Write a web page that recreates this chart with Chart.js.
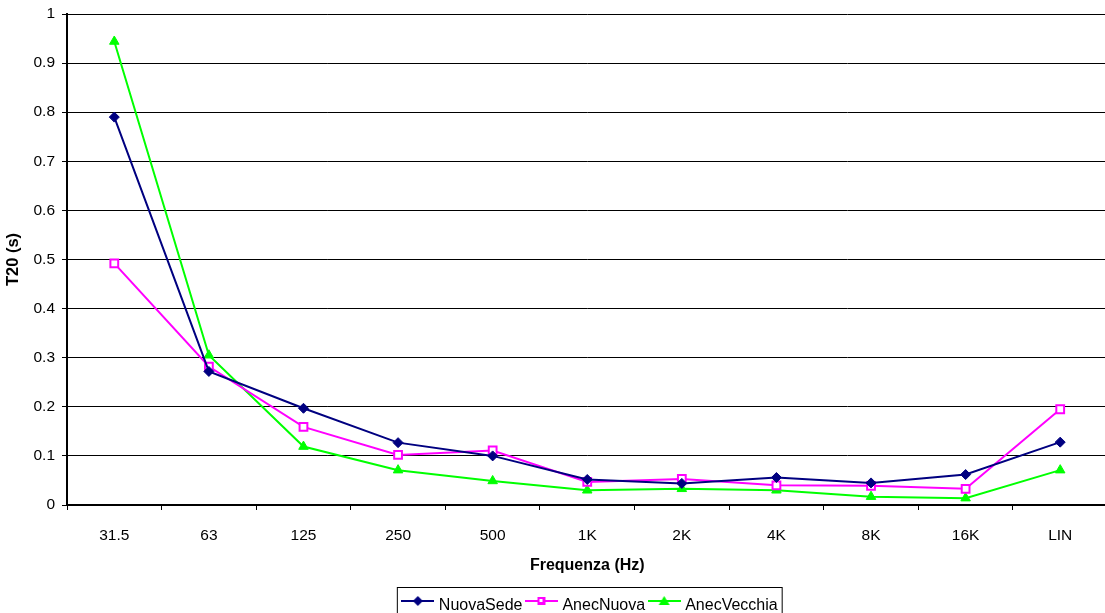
<!DOCTYPE html>
<html>
<head>
<meta charset="utf-8">
<script src="https://cdn.jsdelivr.net/npm/chart.js@4/dist/chart.umd.min.js"></script>
<style>
  html, body { margin: 0; padding: 0; overflow: hidden; background: #fff; }
  #wrap { position: relative; width: 1115px; height: 624px; }
</style>
</head>
<body>
<div id="wrap"><canvas id="myChart"></canvas></div>
<script>
// data
const categories = ['31.5', '63', '125', '250', '500', '1K', '2K', '4K', '8K', '16K', 'LIN'];
const nuovaSede = [0.790, 0.272, 0.197, 0.127, 0.100, 0.052, 0.044, 0.056, 0.045, 0.062, 0.128];
const anecNuova = [0.492, 0.282, 0.159, 0.102, 0.111, 0.047, 0.053, 0.040, 0.039, 0.033, 0.195];
const anecVecchia = [0.944, 0.305, 0.119, 0.071, 0.049, 0.030, 0.033, 0.030, 0.017, 0.014, 0.071];
const yTickLabels = ['0', '0.1', '0.2', '0.3', '0.4', '0.5', '0.6', '0.7', '0.8', '0.9', '1'];

const FONT = 'Liberation Sans, Arial, sans-serif';

// small picture for a legend entry: line with the marker in the middle (Excel style)
function legendIcon(color, shape) {
    const c = document.createElement('canvas');
    c.width = 33;
    c.height = 20;
    const g = c.getContext('2d');
    const cx = 16.5, cy = 5;
    g.strokeStyle = color;
    g.lineWidth = 2;
    g.beginPath();
    g.moveTo(0, cy);
    g.lineTo(33, cy);
    g.stroke();
    g.fillStyle = color;
    g.beginPath();
    if (shape === 'diamond') {
        g.moveTo(cx, cy - 5); g.lineTo(cx + 5, cy); g.lineTo(cx, cy + 5); g.lineTo(cx - 5, cy);
        g.closePath();
        g.fill();
    } else if (shape === 'square') {
        g.rect(cx - 4, cy - 4, 8, 8);
        g.fill();
        g.fillStyle = '#fff';
        g.fillRect(cx - 2, cy - 2, 3, 3);
    } else {
        g.moveTo(cx, cy - 5); g.lineTo(cx + 5.5, cy + 4); g.lineTo(cx - 5.5, cy + 4);
        g.closePath();
        g.fill();
    }
    return c;
}

const icons = [
    legendIcon('#000080', 'diamond'),
    legendIcon('#ff00ff', 'square'),
    legendIcon('#00ff00', 'triangle')
];

// nudges the legend a bit to the right and draws the frame around it
const legendFrame = {
    id: 'legendFrame',
    afterLayout(chart) {
        chart.legend.left += 4;
        chart.legend.right += 4;
    },
    afterDraw(chart) {
        const boxes = chart.legend.legendHitBoxes;
        if (!boxes || !boxes.length) return;
        const first = boxes[0];
        const last = boxes[boxes.length - 1];
        const ctx = chart.ctx;
        const left = first.left - 7.5;
        const right = last.left + last.width + 4.5;
        ctx.save();
        ctx.strokeStyle = '#000';
        ctx.lineWidth = 1;
        ctx.strokeRect(left, first.top - 10.5, right - left, 60);
        ctx.restore();
    }
};

const ctx = document.getElementById('myChart');

new Chart(ctx, {
    type: 'line',
    data: {
        labels: categories,
        datasets: [{
            label: 'NuovaSede',
            data: nuovaSede,
            borderColor: '#000080',
            backgroundColor: '#000080',
            borderWidth: 2,
            pointStyle: 'rectRot',
            pointRadius: 5,
            pointBorderWidth: 1
        }, {
            label: 'AnecNuova',
            data: anecNuova,
            borderColor: '#ff00ff',
            backgroundColor: '#ffffff',
            borderWidth: 2,
            pointStyle: 'rect',
            pointRadius: 5.5,
            pointBorderWidth: 2
        }, {
            label: 'AnecVecchia',
            data: anecVecchia,
            borderColor: '#00ff00',
            backgroundColor: '#00ff00',
            borderWidth: 2,
            pointStyle: 'triangle',
            pointRadius: 5.5,
            pointBorderWidth: 1
        }]
    },
    options: {
        responsive: true,
        maintainAspectRatio: false,
        animation: false,
        events: [],
        layout: { padding: { top: 14, right: 1, bottom: 0, left: 0 } },
        elements: { line: { tension: 0, fill: false } },
        scales: {
            x: {
                offset: true,
                grid: { offset: true, drawOnChartArea: false, color: '#000', lineWidth: 1, tickLength: 5 },
                border: { color: '#000', width: 2 },
                ticks: { color: '#000', font: { family: FONT, size: 15.5 }, padding: 16, maxRotation: 0, autoSkip: false },
                title: {
                    display: true,
                    text: 'Frequenza (Hz)',
                    color: '#000',
                    font: { family: FONT, size: 16, weight: 'bold' },
                    padding: { top: 4, bottom: 17 }
                },
                afterFit(scale) { scale.height = 87; }
            },
            y: {
                min: 0,
                max: 1,
                ticks: {
                    stepSize: 0.1,
                    color: '#000',
                    font: { family: FONT, size: 15.5 },
                    padding: 7,
                    callback: (value, index) => yTickLabels[index]
                },
                grid: { color: '#000', lineWidth: 1, tickLength: 5 },
                border: { color: '#000', width: 2 },
                title: {
                    display: true,
                    text: 'T20 (s)',
                    color: '#000',
                    font: { family: FONT, size: 16.5, weight: 'bold' },
                    padding: { top: 4, bottom: 4 }
                },
                afterFit(scale) {
                    scale.width = 67;
                    scale.paddingTop = 0;
                    scale.paddingBottom = 0;
                }
            }
        },
        plugins: {
            tooltip: { enabled: false },
            legend: {
                position: 'bottom',
                fullSize: false,
                labels: {
                    color: '#000',
                    font: { family: FONT, size: 16 },
                    padding: 6,
                    usePointStyle: true,
                    pointStyleWidth: 26,
                    generateLabels(chart) {
                        return chart.data.datasets.map((ds, i) => ({
                            text: ds.label,
                            pointStyle: icons[i],
                            fillStyle: ds.borderColor,
                            strokeStyle: ds.borderColor,
                            lineWidth: 0,
                            hidden: false,
                            datasetIndex: i,
                            fontColor: '#000'
                        }));
                    }
                }
            }
        }
    },
    plugins: [legendFrame]
});
</script>
</body>
</html>
